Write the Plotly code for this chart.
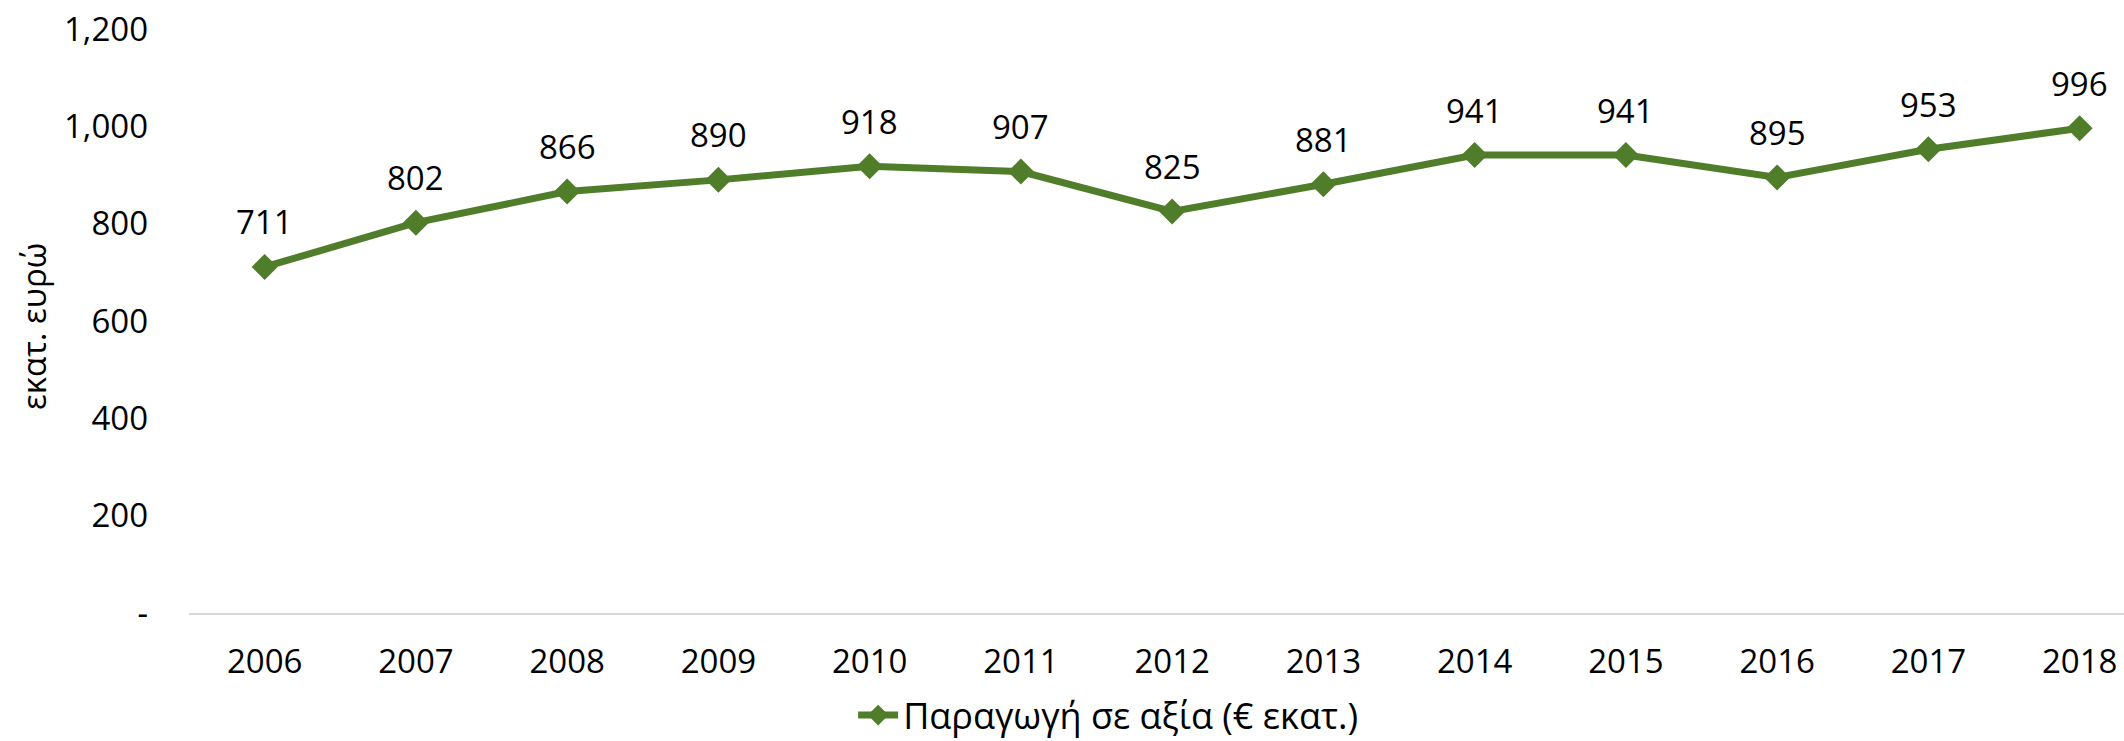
import plotly.graph_objects as go

years = ["2006", "2007", "2008", "2009", "2010", "2011", "2012",
         "2013", "2014", "2015", "2016", "2017", "2018"]
values = [711, 802, 866, 890, 918, 907, 825, 881, 941, 941, 895, 953, 996]
series_name = "Παραγωγή σε αξία (€ εκατ.)"
y_title = "εκατ. ευρώ"
y_tickvals = [0, 200, 400, 600, 800, 1000, 1200]
y_ticktext = ["-", "200", "400", "600", "800", "1,000", "1,200"]

GREEN = "#4F7D2A"
FONT = "Open Sans"
FS = 33

W, H = 2124, 741
ML, MR, MT, MB = 189, 0, 29, 128
PW, PH = W - ML - MR, H - MT - MB

fig = go.Figure()
fig.add_trace(go.Scatter(
    x=list(range(len(years))), y=values, name=series_name,
    mode="lines+markers",
    line=dict(color=GREEN, width=7),
    marker=dict(symbol="diamond", size=20, color=GREEN),
    cliponaxis=False,
))

for i, v in enumerate(values):
    fig.add_annotation(
        x=i, y=v, text=f"{v:,}", showarrow=False,
        xanchor="center", yanchor="middle", yshift=45,
        font=dict(family=FONT, size=FS, color="#000000"),
    )

fig.update_layout(
    width=W, height=H,
    margin=dict(l=ML, r=MR, t=MT, b=MB, autoexpand=False),
    paper_bgcolor="white", plot_bgcolor="white",
    font=dict(family=FONT, size=FS, color="#000000"),
    showlegend=True,
    legend=dict(orientation="h", x=0.475, xanchor="center",
                y=-0.175, yanchor="middle",
                font=dict(family=FONT, size=36, color="#000000"),
                itemwidth=40, bgcolor="rgba(0,0,0,0)"),
)
fig.update_xaxes(
    tickmode="array", tickvals=list(range(len(years))), ticktext=years,
    range=[-0.5, -0.5 + PW / 151.25], showgrid=False, zeroline=False,
    showline=True, linecolor="#D9D9D9", linewidth=2,
    ticks="", ticklabelstandoff=18, ticklabeloverflow="allow",
    tickfont=dict(family=FONT, size=FS, color="#000000"),
    fixedrange=True,
)
fig.update_yaxes(
    range=[0, 1200], tickmode="array", tickvals=y_tickvals, ticktext=y_ticktext,
    showgrid=False, zeroline=False, showline=False, ticks="",
    ticklabelstandoff=40, ticklabeloverflow="allow",
    tickfont=dict(family=FONT, size=FS, color="#000000"),
    fixedrange=True,
)
fig.add_annotation(
    text=y_title, textangle=-90, xref="paper", yref="paper",
    x=(33 - ML) / PW, y=1 - (327 - MT) / PH,
    xanchor="center", yanchor="middle", showarrow=False,
    font=dict(family=FONT, size=FS, color="#000000"),
)

fig.write_html(
    "out.html",
    config={"displayModeBar": False, "staticPlot": True},
    post_script="document.body.style.margin='0px';document.body.style.overflow='hidden';",
)
